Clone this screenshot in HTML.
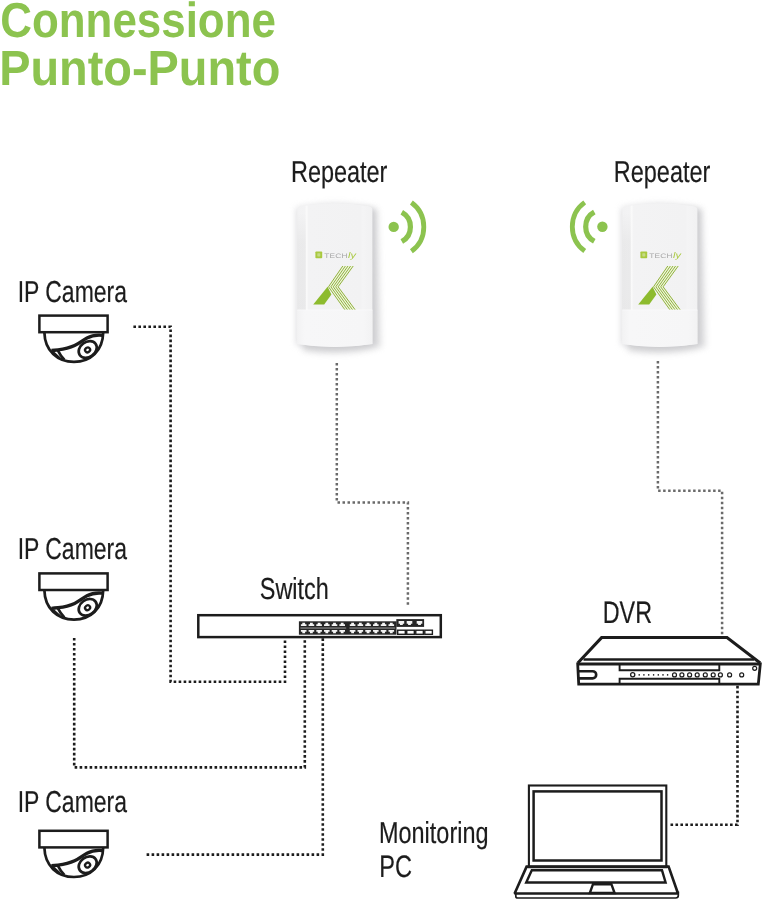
<!DOCTYPE html>
<html lang="it">
<head>
<meta charset="utf-8">
<title>Connessione Punto-Punto</title>
<style>
html,body{margin:0;padding:0;background:#fff;}
body{width:762px;height:901px;overflow:hidden;font-family:"Liberation Sans",sans-serif;}
svg{display:block;will-change:transform;}
svg text{font-family:"Liberation Sans",sans-serif;text-rendering:geometricPrecision;}
</style>
</head>
<body>
<svg width="762" height="901" viewBox="0 0 762 901">
<defs>
<linearGradient id="body" x1="0" y1="0" x2="1" y2="0">
<stop offset="0" stop-color="#f2f2f3"/>
<stop offset="0.1" stop-color="#f3f3f4"/>
<stop offset="0.125" stop-color="#fafafa"/>
<stop offset="0.15" stop-color="#f3f3f4"/>
<stop offset="0.84" stop-color="#f2f2f3"/>
<stop offset="0.87" stop-color="#f4f4f5"/>
<stop offset="1" stop-color="#f1f1f2"/>
</linearGradient>
<linearGradient id="base" x1="0" y1="0" x2="1" y2="0">
<stop offset="0" stop-color="#f2f2f3"/>
<stop offset="0.1" stop-color="#f7f7f8"/>
<stop offset="0.88" stop-color="#f6f6f7"/>
<stop offset="1" stop-color="#f2f2f3"/>
</linearGradient>
<linearGradient id="rim" x1="0" y1="0" x2="0" y2="1">
<stop offset="0" stop-color="#000" stop-opacity="0"/>
<stop offset="0.3" stop-color="#000" stop-opacity="0.035"/>
<stop offset="1" stop-color="#000" stop-opacity="0.04"/>
</linearGradient>
<filter id="blur" x="-30%" y="-30%" width="160%" height="160%"><feGaussianBlur stdDeviation="3.2"/></filter>

</defs>
<rect width="762" height="901" fill="#fff"/>
<text transform="translate(0.32 37.4) scale(0.8921 1)" font-size="49.2" font-weight="bold" fill="#8cc34f">Connessione</text>
<text transform="translate(-0.77 84.9) scale(0.9449 1)" font-size="49.6" font-weight="bold" fill="#8cc34f">Punto-Punto</text>
<g transform="translate(0 0)">
<path d="M296 208 Q335 199 374 208 L374 345 Q335 353 296 345 Z" fill="#d2d2d5" opacity="0.7" filter="url(#blur)"/>
<path d="M330 209 L377.5 209 L380.5 347 Q345 357 303 351 L303 330 Z" fill="#a9a9ad" opacity="0.42" filter="url(#blur)"/>
<path d="M297.3 210.4 Q297.3 206.8 300.6 206.3 Q335 200.4 369.2 206.3 Q372.4 206.8 372.4 210.4 L372.4 343.9 Q335 350 297.3 343.9 Z" fill="url(#body)"/>
<rect x="297.3" y="212" width="8.6" height="98" fill="url(#rim)"/>
<path d="M297.3 310 L372.4 310 L372.4 343.9 Q335 350 297.3 343.9 Z" fill="url(#base)"/>
<path d="M297.3 310 L372.4 310" stroke="#f9f9fa" stroke-width="0.9" fill="none"/>
<rect x="315.4" y="251.4" width="6.8" height="6.8" rx="0.8" fill="#a9c93f"/>
<rect x="317.3" y="253.2" width="3" height="3.2" rx="0.6" fill="#c6db86"/>
<text transform="translate(324.2 257.5) scale(1.3 1)" font-size="6.4" fill="#a6a6a6" letter-spacing="0.2">TECH<tspan dx="0.2" dy="0.9" font-size="8.4" font-style="italic" fill="#a9c93f" letter-spacing="0">ly</tspan></text>
<path d="M313.2 304.6 L327.6 286.8 L331.4 294.4 L324.2 304.6 Z" fill="#8dbb2e"/>
<path d="M342.2 266 L353.8 266 L338.7 286.8 L355.6 309.6 L344.2 309.6 L327.9 286.8 Z" fill="#eef7d9"/>
<path d="M342.8 266 L328.5 286.8 L344.8 309.6" fill="none" stroke="#8cab3a" stroke-width="0.95"/>
<path d="M345.4 266 L330.9 286.8 L347.35 309.6" fill="none" stroke="#8cab3a" stroke-width="0.95"/>
<path d="M348 266 L333.3 286.8 L349.9 309.6" fill="none" stroke="#8cab3a" stroke-width="0.95"/>
<path d="M350.6 266 L335.7 286.8 L352.45 309.6" fill="none" stroke="#8cab3a" stroke-width="0.95"/>
<path d="M353.2 266 L338.1 286.8 L355 309.6" fill="none" stroke="#8cab3a" stroke-width="0.95"/>
</g>
<g transform="translate(325 0)">
<path d="M296 208 Q335 199 374 208 L374 345 Q335 353 296 345 Z" fill="#d2d2d5" opacity="0.7" filter="url(#blur)"/>
<path d="M330 209 L377.5 209 L380.5 347 Q345 357 303 351 L303 330 Z" fill="#a9a9ad" opacity="0.42" filter="url(#blur)"/>
<path d="M297.3 210.4 Q297.3 206.8 300.6 206.3 Q335 200.4 369.2 206.3 Q372.4 206.8 372.4 210.4 L372.4 343.9 Q335 350 297.3 343.9 Z" fill="url(#body)"/>
<rect x="297.3" y="212" width="8.6" height="98" fill="url(#rim)"/>
<path d="M297.3 310 L372.4 310 L372.4 343.9 Q335 350 297.3 343.9 Z" fill="url(#base)"/>
<path d="M297.3 310 L372.4 310" stroke="#f9f9fa" stroke-width="0.9" fill="none"/>
<rect x="315.4" y="251.4" width="6.8" height="6.8" rx="0.8" fill="#a9c93f"/>
<rect x="317.3" y="253.2" width="3" height="3.2" rx="0.6" fill="#c6db86"/>
<text transform="translate(324.2 257.5) scale(1.3 1)" font-size="6.4" fill="#a6a6a6" letter-spacing="0.2">TECH<tspan dx="0.2" dy="0.9" font-size="8.4" font-style="italic" fill="#a9c93f" letter-spacing="0">ly</tspan></text>
<path d="M313.2 304.6 L327.6 286.8 L331.4 294.4 L324.2 304.6 Z" fill="#8dbb2e"/>
<path d="M342.2 266 L353.8 266 L338.7 286.8 L355.6 309.6 L344.2 309.6 L327.9 286.8 Z" fill="#eef7d9"/>
<path d="M342.8 266 L328.5 286.8 L344.8 309.6" fill="none" stroke="#8cab3a" stroke-width="0.95"/>
<path d="M345.4 266 L330.9 286.8 L347.35 309.6" fill="none" stroke="#8cab3a" stroke-width="0.95"/>
<path d="M348 266 L333.3 286.8 L349.9 309.6" fill="none" stroke="#8cab3a" stroke-width="0.95"/>
<path d="M350.6 266 L335.7 286.8 L352.45 309.6" fill="none" stroke="#8cab3a" stroke-width="0.95"/>
<path d="M353.2 266 L338.1 286.8 L355 309.6" fill="none" stroke="#8cab3a" stroke-width="0.95"/>
</g>
<g transform="translate(393.7 226.9)">
<circle cx="0" cy="0" r="5.2" fill="#8cc34f"/>
<path d="M8.1 -14.61 A16.7 16.7 0 0 1 8.1 14.61" fill="none" stroke="#8cc34f" stroke-width="5.2"/>
<path d="M17.69 -24.35 A30.1 30.1 0 0 1 17.69 24.35" fill="none" stroke="#8cc34f" stroke-width="4.8"/>
</g>
<g transform="translate(602.4 226.7) scale(-1 1)">
<circle cx="0" cy="0" r="5.2" fill="#8cc34f"/>
<path d="M8.1 -14.61 A16.7 16.7 0 0 1 8.1 14.61" fill="none" stroke="#8cc34f" stroke-width="5.2"/>
<path d="M17.69 -24.35 A30.1 30.1 0 0 1 17.69 24.35" fill="none" stroke="#8cc34f" stroke-width="4.8"/>
</g>
<text transform="translate(290.95 182.2) scale(0.774 1)" font-size="30.3" fill="#1c1c1c" stroke="#1c1c1c" stroke-width="0.2">Repeater</text>
<text transform="translate(613.85 182.2) scale(0.774 1)" font-size="30.3" fill="#1c1c1c" stroke="#1c1c1c" stroke-width="0.2">Repeater</text>
<g transform="translate(0 0)" fill="none" stroke="#1c1c1c" stroke-linejoin="miter">
<path d="M44.4 332.6 C44.8 350.6 57.4 361.8 74 361.8 C90.6 361.8 102.8 350.6 103.2 332.6" stroke-width="2.7" fill="#fff"/>
<rect x="39.4" y="315.6" width="68.2" height="16.6" stroke-width="2.5" fill="#fff"/>
<path d="M102.6 335.4 C96.5 334.8 91.5 335.6 87 338 C82.5 340.4 79.4 343.4 74.6 345.6 C69.4 348 63.6 349.2 58 349.9 C55.6 350.2 53.4 350.4 51.4 350.5" stroke-width="3.3"/>
<ellipse cx="87.7" cy="349.5" rx="9.7" ry="7.5" transform="rotate(-36 87.7 349.5)" stroke-width="2.7"/>
<ellipse cx="87.6" cy="349.9" rx="2.6" ry="2.3" transform="rotate(-36 87.6 349.9)" stroke-width="2.3"/>
<path d="M57.8 350.4 C59.4 353.6 61.4 356.8 64.4 359.7" stroke-width="2.7"/>
<path d="M53.2 351.8 L59.8 357.8" stroke-width="1.7"/>
</g>
<g transform="translate(0 257.8)" fill="none" stroke="#1c1c1c" stroke-linejoin="miter">
<path d="M44.4 332.6 C44.8 350.6 57.4 361.8 74 361.8 C90.6 361.8 102.8 350.6 103.2 332.6" stroke-width="2.7" fill="#fff"/>
<rect x="39.4" y="315.6" width="68.2" height="16.6" stroke-width="2.5" fill="#fff"/>
<path d="M102.6 335.4 C96.5 334.8 91.5 335.6 87 338 C82.5 340.4 79.4 343.4 74.6 345.6 C69.4 348 63.6 349.2 58 349.9 C55.6 350.2 53.4 350.4 51.4 350.5" stroke-width="3.3"/>
<ellipse cx="87.7" cy="349.5" rx="9.7" ry="7.5" transform="rotate(-36 87.7 349.5)" stroke-width="2.7"/>
<ellipse cx="87.6" cy="349.9" rx="2.6" ry="2.3" transform="rotate(-36 87.6 349.9)" stroke-width="2.3"/>
<path d="M57.8 350.4 C59.4 353.6 61.4 356.8 64.4 359.7" stroke-width="2.7"/>
<path d="M53.2 351.8 L59.8 357.8" stroke-width="1.7"/>
</g>
<g transform="translate(0 515.2)" fill="none" stroke="#1c1c1c" stroke-linejoin="miter">
<path d="M44.4 332.6 C44.8 350.6 57.4 361.8 74 361.8 C90.6 361.8 102.8 350.6 103.2 332.6" stroke-width="2.7" fill="#fff"/>
<rect x="39.4" y="315.6" width="68.2" height="16.6" stroke-width="2.5" fill="#fff"/>
<path d="M102.6 335.4 C96.5 334.8 91.5 335.6 87 338 C82.5 340.4 79.4 343.4 74.6 345.6 C69.4 348 63.6 349.2 58 349.9 C55.6 350.2 53.4 350.4 51.4 350.5" stroke-width="3.3"/>
<ellipse cx="87.7" cy="349.5" rx="9.7" ry="7.5" transform="rotate(-36 87.7 349.5)" stroke-width="2.7"/>
<ellipse cx="87.6" cy="349.9" rx="2.6" ry="2.3" transform="rotate(-36 87.6 349.9)" stroke-width="2.3"/>
<path d="M57.8 350.4 C59.4 353.6 61.4 356.8 64.4 359.7" stroke-width="2.7"/>
<path d="M53.2 351.8 L59.8 357.8" stroke-width="1.7"/>
</g>
<text transform="translate(17.63 302.25) scale(0.7578 1)" font-size="30.3" fill="#1c1c1c" stroke="#1c1c1c" stroke-width="0.2">IP Camera</text>
<text transform="translate(17.63 559.3) scale(0.7578 1)" font-size="30.3" fill="#1c1c1c" stroke="#1c1c1c" stroke-width="0.2">IP Camera</text>
<text transform="translate(17.63 812.25) scale(0.7578 1)" font-size="30.3" fill="#1c1c1c" stroke="#1c1c1c" stroke-width="0.2">IP Camera</text>
<rect x="198.3" y="615.2" width="242.5" height="21.9" stroke="#1c1c1c" stroke-width="2.5" fill="#fff"/>
<rect x="298.9" y="621.3" width="97.6" height="13.4" fill="#262626"/>
<rect x="396.3" y="619.1" width="27.8" height="7.8" fill="#262626"/>
<rect x="300.4" y="627.3" width="45.8" height="1.5" fill="#777"/>
<rect x="349.4" y="627.3" width="45.8" height="1.5" fill="#777"/>
<path d="M300.9 625.95 V624.15 H302.3 V622.85 H305.1 V624.15 H306.5 V625.95 Z" fill="#f4f4f4"/>
<path d="M300.9 630.05 V631.85 H302.3 V633.15 H305.1 V631.85 H306.5 V630.05 Z" fill="#f4f4f4"/>
<path d="M308.6 625.95 V624.15 H310 V622.85 H312.8 V624.15 H314.2 V625.95 Z" fill="#f4f4f4"/>
<path d="M308.6 630.05 V631.85 H310 V633.15 H312.8 V631.85 H314.2 V630.05 Z" fill="#f4f4f4"/>
<path d="M316.3 625.95 V624.15 H317.7 V622.85 H320.5 V624.15 H321.9 V625.95 Z" fill="#f4f4f4"/>
<path d="M316.3 630.05 V631.85 H317.7 V633.15 H320.5 V631.85 H321.9 V630.05 Z" fill="#f4f4f4"/>
<path d="M324 625.95 V624.15 H325.4 V622.85 H328.2 V624.15 H329.6 V625.95 Z" fill="#f4f4f4"/>
<path d="M324 630.05 V631.85 H325.4 V633.15 H328.2 V631.85 H329.6 V630.05 Z" fill="#f4f4f4"/>
<path d="M331.7 625.95 V624.15 H333.1 V622.85 H335.9 V624.15 H337.3 V625.95 Z" fill="#f4f4f4"/>
<path d="M331.7 630.05 V631.85 H333.1 V633.15 H335.9 V631.85 H337.3 V630.05 Z" fill="#f4f4f4"/>
<path d="M339.4 625.95 V624.15 H340.8 V622.85 H343.6 V624.15 H345 V625.95 Z" fill="#f4f4f4"/>
<path d="M339.4 630.05 V631.85 H340.8 V633.15 H343.6 V631.85 H345 V630.05 Z" fill="#f4f4f4"/>
<path d="M349.8 625.95 V624.15 H351.2 V622.85 H354 V624.15 H355.4 V625.95 Z" fill="#f4f4f4"/>
<path d="M349.8 630.05 V631.85 H351.2 V633.15 H354 V631.85 H355.4 V630.05 Z" fill="#f4f4f4"/>
<path d="M357.54 625.95 V624.15 H358.94 V622.85 H361.74 V624.15 H363.14 V625.95 Z" fill="#f4f4f4"/>
<path d="M357.54 630.05 V631.85 H358.94 V633.15 H361.74 V631.85 H363.14 V630.05 Z" fill="#f4f4f4"/>
<path d="M365.28 625.95 V624.15 H366.68 V622.85 H369.48 V624.15 H370.88 V625.95 Z" fill="#f4f4f4"/>
<path d="M365.28 630.05 V631.85 H366.68 V633.15 H369.48 V631.85 H370.88 V630.05 Z" fill="#f4f4f4"/>
<path d="M373.02 625.95 V624.15 H374.42 V622.85 H377.22 V624.15 H378.62 V625.95 Z" fill="#f4f4f4"/>
<path d="M373.02 630.05 V631.85 H374.42 V633.15 H377.22 V631.85 H378.62 V630.05 Z" fill="#f4f4f4"/>
<path d="M380.76 625.95 V624.15 H382.16 V622.85 H384.96 V624.15 H386.36 V625.95 Z" fill="#f4f4f4"/>
<path d="M380.76 630.05 V631.85 H382.16 V633.15 H384.96 V631.85 H386.36 V630.05 Z" fill="#f4f4f4"/>
<path d="M388.5 625.95 V624.15 H389.9 V622.85 H392.7 V624.15 H394.1 V625.95 Z" fill="#f4f4f4"/>
<path d="M388.5 630.05 V631.85 H389.9 V633.15 H392.7 V631.85 H394.1 V630.05 Z" fill="#f4f4f4"/>
<path d="M398.6 621.05 V623.65 H400 V624.95 H402.8 V623.65 H404.2 V621.05 Z" fill="#f4f4f4"/>
<path d="M406.7 621.05 V623.65 H408.1 V624.95 H410.9 V623.65 H412.3 V621.05 Z" fill="#f4f4f4"/>
<path d="M416.7 621.05 V623.65 H418.1 V624.95 H420.9 V623.65 H422.3 V621.05 Z" fill="#f4f4f4"/>
<rect x="397.7" y="630.2" width="7.6" height="4.1" fill="#fff" stroke="#1c1c1c" stroke-width="1.4"/>
<rect x="406.73" y="630.2" width="7.6" height="4.1" fill="#fff" stroke="#1c1c1c" stroke-width="1.4"/>
<rect x="415.76" y="630.2" width="7.6" height="4.1" fill="#fff" stroke="#1c1c1c" stroke-width="1.4"/>
<rect x="424.79" y="630.2" width="7.6" height="4.1" fill="#fff" stroke="#1c1c1c" stroke-width="1.4"/>
<text transform="translate(259.77 599.2) scale(0.7744 1)" font-size="30.3" fill="#1c1c1c" stroke="#1c1c1c" stroke-width="0.2">Switch</text>
<g stroke="#1c1c1c" fill="none" stroke-linejoin="miter">
<path d="M577.8 663 L601.6 637.6 L727 637.6 L760.2 663" stroke-width="3" fill="#fff"/>
<path d="M583.5 659.4 H754" stroke-width="2.5"/>
<path d="M577.7 664 H760.3 L758.3 684.2 H578.7 Z" stroke-width="2.8" fill="#fff"/>
<path d="M579 671.2 H592.6 A3.6 3.6 0 0 1 592.6 678.4 H579" stroke-width="2.6"/>
<path d="M619.6 664 V670.3 H719.3 V664 M619.6 684.3 V678.8 H719.3 V684.3" stroke-width="1.9"/>
<circle cx="632.7" cy="674.8" r="2.1" stroke-width="1.3"/>
<circle cx="674.5" cy="674.9" r="2" stroke-width="1.2"/>
<circle cx="681.9" cy="674.9" r="2" stroke-width="1.2"/>
<circle cx="689.6" cy="674.9" r="2" stroke-width="1.2"/>
<circle cx="697.2" cy="674.9" r="2" stroke-width="1.2"/>
<circle cx="705.3" cy="674.9" r="2" stroke-width="1.2"/>
<circle cx="713.2" cy="674.9" r="2" stroke-width="1.2"/>
<circle cx="720.4" cy="674.9" r="2" stroke-width="1.2"/>
<circle cx="729.6" cy="674.9" r="2" stroke-width="1.2"/>
<circle cx="741.7" cy="674.9" r="2" stroke-width="1.2"/>
<circle cx="754.7" cy="668.3" r="2" stroke-width="1.2"/>
</g>
<circle cx="639.2" cy="674.9" r="0.8" fill="#1c1c1c"/>
<circle cx="643.9" cy="674.9" r="0.8" fill="#1c1c1c"/>
<circle cx="648.7" cy="674.9" r="0.8" fill="#1c1c1c"/>
<circle cx="653.6" cy="674.9" r="0.8" fill="#1c1c1c"/>
<circle cx="658.3" cy="674.9" r="0.8" fill="#1c1c1c"/>
<circle cx="663.0" cy="674.9" r="0.8" fill="#1c1c1c"/>
<circle cx="667.6" cy="674.9" r="0.8" fill="#1c1c1c"/>
<text transform="translate(602.72 623.25) scale(0.7507 1)" font-size="31.1" fill="#1c1c1c" stroke="#1c1c1c" stroke-width="0.2">DVR</text>
<g stroke="#1c1c1c" fill="none" stroke-linejoin="miter">
<path d="M515.8 894 V896.2 Q515.8 898 517.8 898 H675.6 Q678.3 898 678.3 895.6 V891.5" stroke-width="1.7"/>
<path d="M526.6 866.6 L514.6 893.5 H678 L668.6 866.6 Z" stroke-width="2.6" stroke-miterlimit="1.5" fill="#fff"/>
<rect x="528.9" y="785.5" width="137.4" height="81.2" stroke-width="2.1" fill="#fff"/>
<rect x="533.6" y="791.4" width="127.9" height="69.1" stroke-width="2.5"/>
<path d="M527.8 866.8 H667.4" stroke-width="3"/>
<path d="M531.8 870.3 H662 L665.6 882.5 H526.2 Z" stroke-width="2.4"/>
<path d="M593 884.2 H611.4 L614.6 893 H589.8 Z" stroke-width="2.4"/>
</g>
<text transform="translate(378.98 843.15) scale(0.7743 1)" font-size="30.3" fill="#1c1c1c" stroke="#1c1c1c" stroke-width="0.2">Monitoring</text>
<text transform="translate(379.35 877.3) scale(0.7582 1)" font-size="31.1" fill="#1c1c1c" stroke="#1c1c1c" stroke-width="0.2">PC</text>
<path d="M133.4 326.7 L170.6 326.7 L170.6 681.7 L285 681.7 L285 640.4" fill="none" stroke="#1c1c1c" stroke-width="2.6" stroke-dasharray="2.6 2.403"/>
<path d="M74.2 637.9 L74.2 767.4 L304.8 767.4 L304.8 640.2" fill="none" stroke="#1c1c1c" stroke-width="2.6" stroke-dasharray="2.6 2.397"/>
<path d="M146.6 854.6 L322.8 854.6 L322.8 638.3" fill="none" stroke="#1c1c1c" stroke-width="2.6" stroke-dasharray="2.6 2.399"/>
<path d="M336.8 362.95 L336.8 502.4 L407.9 502.4 L407.9 604.65" fill="none" stroke="#6a6a6a" stroke-width="2.5" stroke-dasharray="2.5 2.505"/>
<path d="M657.9 361.05 L657.9 490.8 L722.1 490.8 L722.1 634.25" fill="none" stroke="#6a6a6a" stroke-width="2.5" stroke-dasharray="2.5 2.499"/>
<path d="M737.5 685.8 L737.5 824.8 L670.5 824.8" fill="none" stroke="#1c1c1c" stroke-width="2.6" stroke-dasharray="2.6 2.361"/>
</svg>
</body>
</html>
